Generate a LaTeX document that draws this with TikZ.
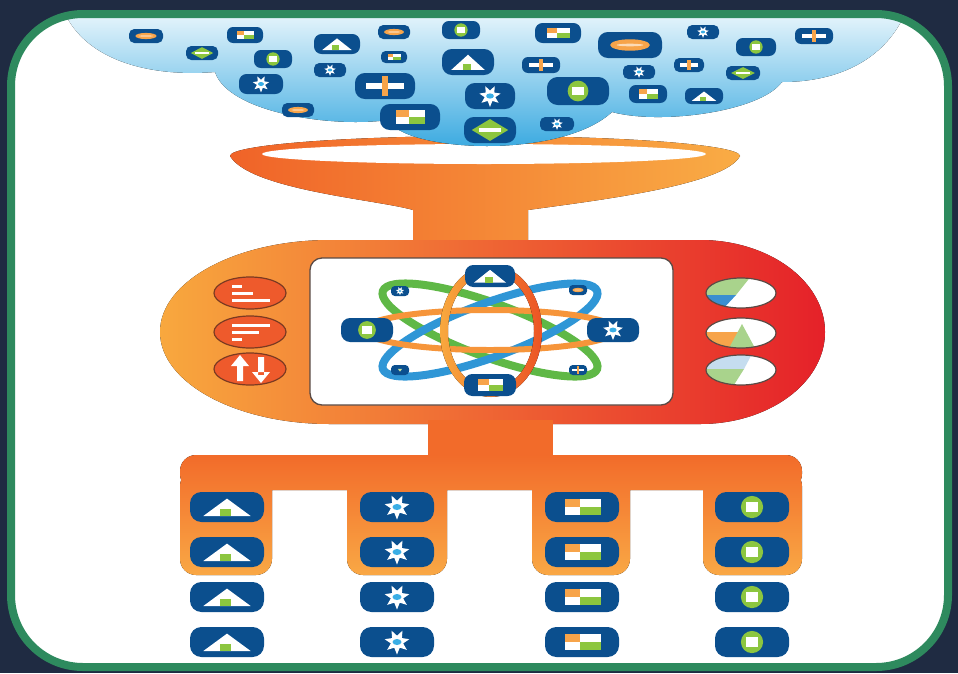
\documentclass[tikz,border=0pt]{standalone}

\definecolor{bgnavy}{HTML}{1F2B42}
\definecolor{framegreen}{HTML}{2E8A5E}
\definecolor{tileblue}{HTML}{0B4F8E}
\definecolor{accorange}{HTML}{F7A44A}
\definecolor{accgreen}{HTML}{8CC63F}
\definecolor{dotblue}{HTML}{3AAEE5}
\definecolor{cloudT}{HTML}{F7FCFE}
\definecolor{cloudM}{HTML}{BFE3F1}
\definecolor{cloudB}{HTML}{2BA3DE}
\definecolor{funL}{HTML}{F06328}
\definecolor{funR}{HTML}{F9AC45}
\definecolor{bodyL}{HTML}{F8A83E}
\definecolor{bodyM}{HTML}{F05A29}
\definecolor{bodyR}{HTML}{E52129}
\definecolor{barT}{HTML}{F26B2A}
\definecolor{barB}{HTML}{F9A845}
\definecolor{btnfill}{HTML}{EE5A2C}
\definecolor{btnedge}{HTML}{7B3A22}
\definecolor{pieedge}{HTML}{5A4A45}
\definecolor{piegreen}{HTML}{A9D38C}
\definecolor{pieblue}{HTML}{3A8FD0}
\definecolor{pielight}{HTML}{C5DDEF}
\definecolor{orbgreen}{HTML}{5FB846}
\definecolor{orbblue}{HTML}{2F96D6}
\definecolor{orborange}{HTML}{F6953A}
\definecolor{ringL}{HTML}{F8A83E}
\definecolor{ringR}{HTML}{EC5424}

% glyphs, drawn in units of the tile height, \tw is half the tile width
\newcommand\glyphminus{%
  \fill[accorange] (0,0) ellipse[x radius={0.62*\tw}, y radius=0.22];
  \fill[accorange!40!white] (0,0) ellipse[x radius={0.42*\tw}, y radius=0.05];}
\newcommand\glyphflag{%
  \fill[accorange] (-0.46*\tw,-0.27) rectangle (-0.05*\tw,0);
  \fill[white] (-0.05*\tw,-0.27) rectangle (0.5*\tw,0);
  \fill[white] (-0.46*\tw,0) rectangle (-0.05*\tw,0.27);
  \fill[accgreen] (-0.05*\tw,0) rectangle (0.5*\tw,0.27);}
\newcommand\glyphtri{%
  \fill[white] (-0.64*\tw,0.3) -- (0.64*\tw,0.3) -- (0,-0.28) -- cycle;
  \fill[accgreen] (-0.2*\tw,0.06) rectangle (0.1*\tw,0.3);}
\newcommand\glyphdot{%
  \fill[accgreen] (0,0) circle[radius=0.37];
  \fill[white] (-0.21,-0.16) rectangle (0.21,0.16);}
\newcommand\glyphstar{%
  \fill[white] (90:0.42) \foreach \k in {0,...,6}{ -- ({90+\k*360/7}:0.42) -- ({90+\k*360/7+180/7}:0.21) } -- cycle;
  \fill[dotblue] (0,0) ellipse[x radius=0.15, y radius=0.1];}
\newcommand\glyphplus{%
  \fill[white] (-0.62*\tw,-0.13) rectangle (0.62*\tw,0.13);
  \fill[accorange] (-0.13,-0.38) rectangle (0.13,0.38);}
\newcommand\glyphdiam{%
  \fill[accgreen] (-0.7*\tw,0) -- (0,-0.42) -- (0.7*\tw,0) -- (0,0.42) -- cycle;
  \fill[white] (-0.42*\tw,-0.07) rectangle (0.42*\tw,0.07);}
\newcommand\glyphchev{%
  \fill[accgreen!50!white] (-0.22,-0.12) -- (0.22,-0.12) -- (0,0.16) -- cycle;}

% \tile{kind}{x}{y}{width}{height}
\newcommand\tile[5]{%
  \begin{scope}[shift={(#2,#3)},x=#5pt,y=-#5pt]
    \pgfmathsetmacro\tw{#4/#5/2}
    \fill[tileblue,rounded corners={0.38*#5pt}] (-\tw,-0.5) rectangle (\tw,0.5);
    \csname glyph#1\endcsname
  \end{scope}}

\begin{document}
\begin{tikzpicture}[x=1pt,y=-1pt]
  \tikzstyle{orbit}=[line width=8]
  \tikzstyle{button}=[fill=btnfill,draw=btnedge,line width=1.2]
  \tikzstyle{pie}=[draw=pieedge,line width=1.2]
  \tikzstyle{bar}=[white,line width=3]
  \useasboundingbox (0,0) rectangle (958,673);

  % frame
  \fill[bgnavy] (0,0) rectangle (958,673);
  \fill[white,rounded corners=72] (11,14) rectangle (948,667);

  % funnel
  \fill[left color=funL,right color=funR] (230,156) .. controls (250,190) and (380,200) .. (413,210)
    -- (413,242) -- (528,242) -- (528,210) .. controls (600,200) and (725,185) .. (740,156)
    arc[start angle=0,end angle=-180,x radius=255,y radius=20] -- cycle;
  \fill[white] (484,154) ellipse[x radius=222,y radius=10];

  % cloud
  \begin{scope}
    \clip[rounded corners=72] (11,14) rectangle (948,667);
    \fill[top color=cloudT,middle color=cloudM,bottom color=cloudB]
      (60,0) .. controls (75,55) and (140,78) .. (215,72)
      .. controls (228,112) and (330,128) .. (388,120)
      .. controls (405,152) and (560,160) .. (612,112)
      .. controls (660,125) and (760,112) .. (782,82)
      .. controls (850,82) and (895,50) .. (910,0) -- cycle;
  \end{scope}
  \draw[framegreen,line width=8,rounded corners=72] (11,14) rectangle (948,667);

  \foreach \kind/\cx/\cy/\w/\h in {
      minus/146/36/34/14, flag/245/35/36/16, diam/202/53/32/14, dot/273/59/38/18,
      tri/337/44/46/20, minus/394/32/32/14, dot/461/30/38/18, flag/394/57/26/12,
      tri/468/62/52/26, star/330/70/32/14, star/261/84/44/20, plus/385/86/60/26,
      minus/298/110/32/14, flag/410/117/60/26, star/490/96/50/26, diam/490/130/52/26,
      flag/558/33/46/20, minus/630/45/64/26, plus/541/65/38/16, dot/578/91/62/28,
      star/639/72/32/14, plus/689/65/30/14, star/703/32/32/14, dot/756/47/40/18,
      diam/743/73/34/14, flag/648/94/38/18, tri/704/96/38/16, star/557/124/34/14,
      plus/814/36/38/16}
    {\tile{\kind}{\cx}{\cy}{\w}{\h}}

  % body
  \fill[left color=bodyL,middle color=bodyM,right color=bodyR] (330,240) -- (700,240)
    arc[start angle=-90,end angle=90,x radius=125,y radius=92] -- (330,424)
    arc[start angle=90,end angle=270,x radius=170,y radius=92] -- cycle;
  \draw[fill=white,draw=pieedge,line width=1.3,rounded corners=12] (310,258) rectangle (673,405);

  % buttons
  \draw[button] (250,293) ellipse[x radius=36,y radius=16];
  \draw[button] (250,332) ellipse[x radius=36,y radius=16];
  \draw[button] (250,369) ellipse[x radius=36,y radius=16];
  \draw[bar] (232,286) -- (242,286) (232,293) -- (253,293) (232,300) -- (270,300);
  \draw[bar] (232,325) -- (270,325) (232,332) -- (259,332) (232,339) -- (242,339);
  \fill[white] (237,363) rectangle (243,381) (231,366) -- (249,366) -- (240,355) -- cycle;
  \fill[white] (258,357) rectangle (264,375) (252,372) -- (270,372) -- (261,383) -- cycle;

  % pies
  \begin{scope}
    \clip (741,293) ellipse[x radius=35,y radius=15];
    \fill[white] (700,275) rectangle (780,310);
    \fill[piegreen] (700,275) -- (752,275) -- (736,295) -- (700,295) -- cycle;
    \fill[pieblue] (700,295) -- (736,295) -- (722,310) -- (700,310) -- cycle;
  \end{scope}
  \begin{scope}
    \clip (741,333) ellipse[x radius=35,y radius=15];
    \fill[white] (700,315) rectangle (780,350);
    \fill[accorange] (700,332) -- (739,332) -- (731,350) -- (700,350) -- cycle;
    \fill[piegreen] (742,324) -- (756,350) -- (728,350) -- cycle;
  \end{scope}
  \begin{scope}
    \clip (741,370) ellipse[x radius=35,y radius=15];
    \fill[white] (700,352) rectangle (780,388);
    \fill[pielight] (700,352) -- (753,352) -- (744,369) -- (700,369) -- cycle;
    \fill[piegreen] (700,369) -- (744,369) -- (732,388) -- (700,388) -- cycle;
  \end{scope}
  \draw[pie] (741,293) ellipse[x radius=35,y radius=15];
  \draw[pie] (741,333) ellipse[x radius=35,y radius=15];
  \draw[pie] (741,370) ellipse[x radius=35,y radius=15];

  % atom
  \begin{scope}[shift={(490,330)}]
    \draw[orbit,orbgreen,rotate=-20] (0,0) ellipse[x radius=114,y radius=27];
    \draw[orbit,orbblue,rotate=20] (0,0) ellipse[x radius=114,y radius=27];
    \draw[orbit,orborange,line width=6] (0,0) ellipse[x radius=126,y radius=20];
    \fill[left color=ringL,right color=ringR,even odd rule]
      (1,1) ellipse[x radius=51,y radius=66] (1,1) ellipse[x radius=43,y radius=58];
  \end{scope}
  \tile{tri}{490}{276}{50}{22}
  \tile{dot}{367}{330}{52}{24}
  \tile{star}{613}{330}{52}{24}
  \tile{flag}{490}{385}{52}{22}
  \tile{star}{400}{291}{18}{10}
  \tile{minus}{578}{290}{18}{10}
  \tile{chev}{400}{370}{18}{10}
  \tile{plus}{578}{370}{18}{10}

  % outlet
  \fill[barT] (428,420) rectangle (553,462);
  \fill[top color=barT,bottom color=barB,rounded corners=16]
    (180,455) rectangle (802,490) (180,470) rectangle (272,575)
    (347,470) rectangle (447,575) (532,470) rectangle (630,575)
    (703,470) rectangle (802,575);
  \foreach \kind/\cx in {tri/227,star/397,flag/582,dot/752}
    \foreach \cy in {507,552,597,642}
      {\tile{\kind}{\cx}{\cy}{74}{30}}
\end{tikzpicture}
\end{document}
